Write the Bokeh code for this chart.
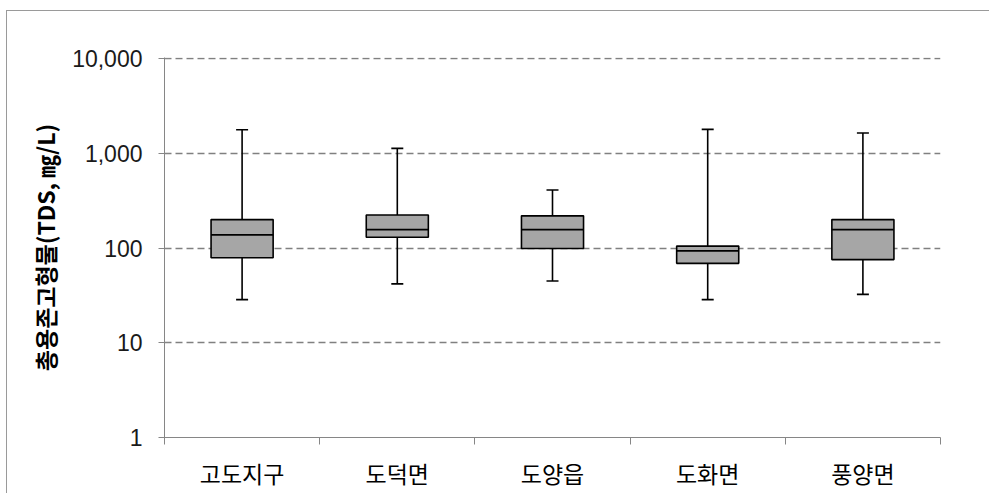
from bokeh.plotting import figure
from bokeh.models import FixedTicker, NumeralTickFormatter, Range1d, ColumnDataSource, Whisker, TeeHead
from bokeh.transform import dodge
from bokeh.embed import file_html
from bokeh.resources import INLINE

# ---- data ----
categories = ["고도지구", "도덕면", "도양읍", "도화면", "풍양면"]
whisker_low = [28.6, 41.9, 45.0, 28.6, 32.5]
q1 = [79, 130, 99, 69, 75.6]
median = [138, 157, 157, 93.5, 157]
q3 = [200, 224, 219, 105, 200]
whisker_high = [1780, 1130, 411, 1795, 1645]
y_ticks = [1, 10, 100, 1000, 10000]
y_grid = [10, 100, 1000, 10000]
y_label = "총용존고형물(TDS, ㎎/L)"

n = len(categories)
xs = [i + 0.5 for i in range(n)]
src = ColumnDataSource(dict(x=xs, cat=categories, low=whisker_low, q1=q1,
                            med=median, q3=q3, high=whisker_high))

p = figure(width=983, height=483, y_axis_type="log",
           x_range=Range1d(0, n), y_range=Range1d(y_ticks[0], y_ticks[-1] * 1.03),
           output_backend="svg", toolbar_location=None,
           min_border_left=157, min_border_right=50,
           min_border_top=46, min_border_bottom=57)
p.outline_line_color = None
p.background_fill_color = "white"
p.border_fill_color = "white"
p.styles = {"border-top": "1px solid #9a9a9a", "border-left": "1px solid #9a9a9a",
            "margin-left": "6px", "margin-top": "10px"}

# grid
p.xgrid.visible = False
p.ygrid.ticker = FixedTicker(ticks=y_grid)
p.ygrid.grid_line_color = "#808080"
p.ygrid.grid_line_dash = "7 4"
p.ygrid.grid_line_width = 1.4
p.yaxis.minor_tick_line_color = None

# whiskers
wcol = "black"
upper = Whisker(source=src, base="x", lower="q3", upper="high", dimension="height",
                line_color=wcol, line_width=1.6,
                upper_head=TeeHead(size=12, line_color=wcol, line_width=1.6),
                lower_head=None)
lower = Whisker(source=src, base="x", lower="low", upper="q1", dimension="height",
                line_color=wcol, line_width=1.6,
                lower_head=TeeHead(size=12, line_color=wcol, line_width=1.6),
                upper_head=None)
p.add_layout(upper)
p.add_layout(lower)

# boxes
p.vbar(x="x", width=0.4, bottom="q1", top="q3", source=src,
       fill_color="#a6a6a6", line_color="black", line_width=1.6)
# median
p.segment(x0=dodge("x", -0.2), x1=dodge("x", 0.2), y0="med", y1="med",
          source=src, line_color="black", line_width=1.8)

# y axis
ya = p.yaxis[0]
ya.ticker = FixedTicker(ticks=y_ticks)
ya.formatter = NumeralTickFormatter(format="0,0")
ya.axis_line_color = "#868686"
ya.major_tick_line_color = "#868686"
ya.major_tick_in = 5
ya.major_tick_out = 6
ya.major_label_standoff = 16
ya.major_label_text_font = "Liberation Sans"
ya.major_label_text_font_size = "23px"
ya.major_label_text_color = "#1a1a1a"
ya.axis_label = y_label
ya.axis_label_text_font = "Noto Sans CJK KR"
ya.axis_label_text_font_style = "bold"
ya.axis_label_text_font_size = "23px"
ya.axis_label_text_color = "black"
ya.axis_label_standoff = 7

# x axis
xa = p.xaxis[0]
xa.ticker = FixedTicker(ticks=xs, minor_ticks=list(range(n + 1)))
xa.major_label_overrides = {x: c for x, c in zip(xs, categories)}
xa.axis_line_color = "#868686"
xa.major_tick_line_color = None
xa.minor_tick_line_color = "#868686"
xa.minor_tick_in = 0
xa.minor_tick_out = 7
xa.major_label_standoff = 11
xa.major_label_text_font = "Noto Sans CJK KR"
xa.major_label_text_font_size = "23px"
xa.major_label_text_color = "black"

open("out.html", "w").write(file_html(p, INLINE))
